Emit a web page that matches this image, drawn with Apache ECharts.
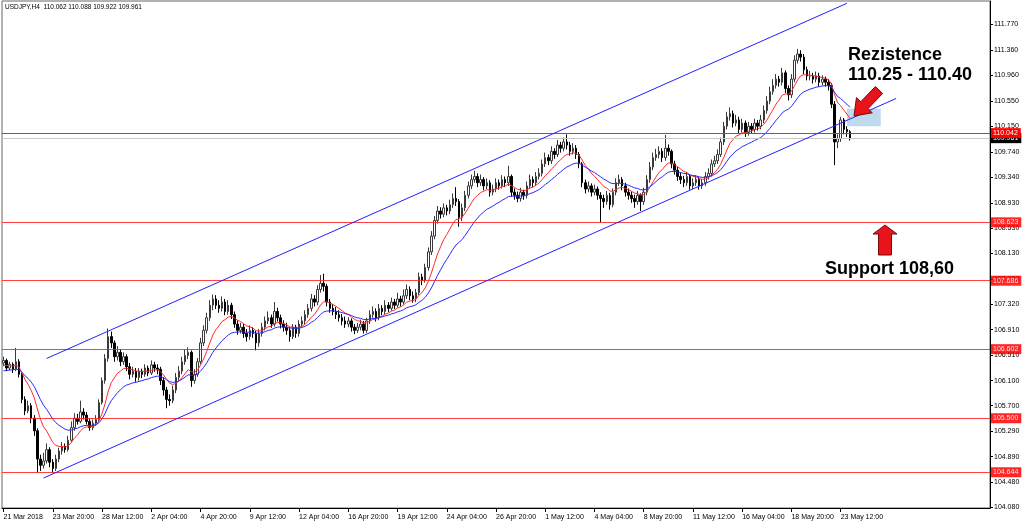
<!DOCTYPE html>
<html><head><meta charset="utf-8">
<script src="https://cdn.jsdelivr.net/npm/echarts@6/dist/echarts.min.js"></script>
<style>html,body{margin:0;padding:0;background:#fff}#c{width:1024px;height:527px}</style>
</head><body><div id="c"></div>
<script>
// ---------------- data ----------------
const chartTitle = 'USDJPY,H4  110.062 110.088 109.922 109.961';
const timeLabels = ['21 Mar 2018','23 Mar 20:00','28 Mar 12:00','2 Apr 04:00','4 Apr 20:00','9 Apr 12:00','12 Apr 04:00','16 Apr 20:00','19 Apr 12:00','24 Apr 04:00','26 Apr 20:00','1 May 12:00','4 May 04:00','8 May 20:00','11 May 12:00','16 May 04:00','18 May 20:00','23 May 12:00'];
const labelEvery = 16;          // bars between time labels
const slotCount = 321;          // bars + right-side chart shift
const firstOpen = 106.38;
const closes = [
106.42,106.30,106.36,106.28,106.40,106.20,105.80,105.62,105.70,105.50,
105.30,104.85,104.75,104.82,105.00,104.80,104.70,104.85,104.98,105.05,
105.00,105.15,105.35,105.50,105.45,105.60,105.55,105.45,105.35,105.42,
105.48,105.75,106.10,106.45,106.80,106.70,106.48,106.55,106.40,106.48,
106.32,106.20,106.25,106.15,106.25,106.20,106.30,106.22,106.35,106.30,
106.28,106.10,105.95,105.80,105.78,105.95,106.15,106.25,106.40,106.50,
106.55,106.10,106.20,106.40,106.70,106.90,107.10,107.30,107.40,107.30,
107.25,107.35,107.20,107.30,107.15,107.00,106.90,106.95,106.85,106.80,
106.90,106.85,106.70,106.85,106.95,107.05,107.10,107.00,107.20,107.10,
107.00,106.95,106.90,106.80,106.95,106.85,107.00,107.05,107.15,107.25,
107.40,107.35,107.55,107.65,107.60,107.35,107.25,107.20,107.15,107.10,
107.05,107.00,107.05,106.95,106.90,106.95,107.00,106.90,107.05,107.15,
107.20,107.10,107.25,107.20,107.30,107.25,107.35,107.30,107.40,107.35,
107.45,107.55,107.45,107.40,107.50,107.75,107.70,107.90,108.15,108.40,
108.65,108.80,108.75,108.85,108.80,108.90,109.00,108.95,108.70,108.85,
109.05,109.20,109.30,109.35,109.25,109.30,109.20,109.25,109.10,109.15,
109.25,109.20,109.30,109.25,109.35,109.10,109.05,109.00,109.10,109.05,
109.20,109.30,109.25,109.35,109.40,109.55,109.65,109.60,109.75,109.70,
109.85,109.80,109.90,109.85,109.75,109.80,109.70,109.55,109.25,109.15,
109.20,109.10,109.15,109.05,109.00,108.95,109.05,108.90,109.10,109.25,
109.30,109.20,109.10,109.05,109.00,108.95,109.05,108.95,109.10,109.30,
109.50,109.65,109.70,109.75,109.65,109.80,109.75,109.55,109.45,109.35,
109.30,109.25,109.35,109.20,109.25,109.30,109.20,109.25,109.35,109.40,
109.55,109.60,109.70,109.90,110.15,110.30,110.35,110.20,110.25,110.10,
110.20,110.05,110.15,110.10,110.20,110.15,110.25,110.40,110.55,110.70,
110.80,110.90,110.85,111.00,110.75,110.65,110.90,111.20,111.30,111.25,
111.05,110.95,110.95,110.90,110.95,110.85,110.90,110.85,110.80,110.50,
109.90,109.95,110.25,110.10,110.062,109.961];
const highs = [
106.48,106.45,106.40,106.39,106.62,106.44,106.22,105.85,105.78,105.74,
105.55,105.34,104.92,104.95,105.10,105.04,104.85,104.92,105.03,105.12,
105.10,105.22,105.45,105.58,105.57,105.78,105.66,105.60,105.50,105.48,
105.55,105.80,106.15,106.52,106.93,106.88,106.74,106.65,106.60,106.55,
106.52,106.38,106.32,106.30,106.30,106.29,106.36,106.34,106.42,106.40,
106.36,106.32,106.15,106.00,105.88,106.02,106.22,106.33,106.48,106.60,
106.63,106.58,106.28,106.46,106.78,106.98,107.18,107.38,107.47,107.46,
107.38,107.44,107.40,107.38,107.34,107.20,107.06,107.02,107.00,106.92,
106.98,106.95,106.90,106.92,107.02,107.12,107.20,107.15,107.35,107.26,
107.15,107.06,107.02,106.95,107.00,106.99,107.06,107.12,107.22,107.32,
107.48,107.46,107.62,107.78,107.80,107.64,107.40,107.32,107.27,107.22,
107.16,107.12,107.11,107.09,107.00,107.02,107.07,107.05,107.10,107.22,
107.28,107.25,107.32,107.30,107.38,107.35,107.42,107.40,107.50,107.45,
107.55,107.63,107.60,107.52,107.56,107.82,107.80,107.96,108.22,108.48,
108.72,108.88,108.86,108.92,108.90,108.98,109.08,109.18,108.99,108.92,
109.12,109.27,109.38,109.44,109.40,109.38,109.34,109.32,109.29,109.22,
109.32,109.30,109.37,109.35,109.52,109.38,109.16,109.11,109.17,109.14,
109.27,109.38,109.35,109.42,109.48,109.62,109.73,109.70,109.83,109.80,
109.93,109.90,109.97,110.02,109.90,109.88,109.85,109.74,109.58,109.30,
109.27,109.24,109.22,109.19,109.10,109.06,109.12,109.09,109.16,109.32,
109.38,109.34,109.25,109.16,109.11,109.06,109.12,109.08,109.17,109.37,
109.58,109.73,109.79,109.83,109.80,110.01,109.86,109.78,109.60,109.50,
109.41,109.36,109.42,109.39,109.32,109.37,109.34,109.31,109.42,109.48,
109.62,109.68,109.78,109.97,110.22,110.38,110.45,110.40,110.33,110.30,
110.27,110.24,110.22,110.20,110.27,110.25,110.33,110.48,110.63,110.78,
110.90,110.98,110.95,111.08,111.04,110.80,110.98,111.28,111.38,111.36,
111.30,111.10,111.03,111.00,111.02,111.00,110.96,110.94,110.90,110.84,
110.55,110.02,110.30,110.28,110.15,110.088];
const lows = [
106.33,106.25,106.26,106.22,106.25,106.15,105.74,105.55,105.58,105.42,
105.22,104.63,104.66,104.70,104.78,104.72,104.63,104.66,104.80,104.92,
104.95,104.97,105.12,105.30,105.40,105.42,105.48,105.40,105.30,105.31,
105.38,105.45,105.72,106.05,106.40,106.62,106.40,106.42,106.33,106.35,
106.25,106.12,106.15,106.08,106.10,106.14,106.16,106.17,106.19,106.24,
106.20,106.03,105.86,105.66,105.70,105.74,105.90,106.10,106.20,106.35,
106.44,106.00,106.05,106.16,106.36,106.65,106.85,107.05,107.22,107.24,
107.18,107.20,107.14,107.15,107.08,106.94,106.83,106.85,106.78,106.72,
106.75,106.78,106.58,106.64,106.80,106.90,107.00,106.94,106.96,107.04,
106.93,106.88,106.83,106.72,106.76,106.78,106.80,106.96,107.00,107.10,
107.20,107.28,107.30,107.50,107.52,107.28,107.18,107.14,107.08,107.04,
106.98,106.94,106.95,106.88,106.84,106.86,106.90,106.85,106.86,107.00,
107.10,107.04,107.06,107.14,107.15,107.19,107.21,107.24,107.26,107.28,
107.31,107.40,107.38,107.34,107.35,107.46,107.62,107.66,107.85,108.10,
108.35,108.60,108.68,108.70,108.73,108.75,108.85,108.88,108.55,108.64,
108.80,109.00,109.15,109.25,109.18,109.20,109.13,109.15,109.03,109.05,
109.10,109.14,109.16,109.18,109.20,109.03,108.98,108.94,108.95,108.98,
109.00,109.15,109.18,109.20,109.30,109.35,109.50,109.53,109.55,109.63,
109.66,109.73,109.75,109.78,109.68,109.70,109.63,109.48,109.18,109.08,
109.10,109.03,109.05,108.98,108.62,108.85,108.90,108.82,108.86,109.05,
109.20,109.13,109.03,108.98,108.93,108.85,108.90,108.80,108.90,109.05,
109.25,109.45,109.60,109.64,109.58,109.60,109.68,109.48,109.38,109.28,
109.23,109.18,109.20,109.14,109.15,109.20,109.14,109.15,109.20,109.30,
109.35,109.50,109.55,109.66,109.85,110.10,110.24,110.13,110.15,110.03,
110.05,109.98,110.00,110.03,110.05,110.08,110.10,110.20,110.35,110.50,
110.65,110.75,110.78,110.80,110.68,110.56,110.60,110.85,111.15,111.18,
110.98,110.88,110.88,110.83,110.85,110.78,110.80,110.78,110.72,110.44,
109.53,109.80,109.90,110.02,109.98,109.922];
const fastMA = {period: 10, seed: 106.33};   // red moving average
const slowMA = {period: 21, seed: 106.24};   // blue moving average
const levelPrices = [110.042, 108.623, 107.686, 106.602, 105.500, 104.644];
const bidPrice = 109.961;
const yTickValues = [111.770,111.360,110.960,110.550,110.150,109.740,109.340,108.930,108.530,108.130,107.720,107.320,106.910,106.510,106.100,105.700,105.290,104.890,104.480,104.080];
const yRange = [104.071, 112.144];
const channelUpper = [[14, 106.452], [274, 112.107]];
const channelLower = [[13, 104.548], [290, 110.592]];
const resistanceZone = [[274, 110.43], [285, 110.15]];
const noteResistance = ['Rezistence', '110.25 - 110.40'];
const noteSupport = 'Support 108,60';

// ---------------- build ----------------
const xData = Array.from({length: slotCount}, (_, i) => String(i));
const candles = closes.map((c, i) => [i === 0 ? firstOpen : closes[i - 1], c, lows[i], highs[i]]);
function ema(cfg) {
  const a = 2 / (cfg.period + 1);
  let prev = cfg.seed;
  return closes.map(c => (prev = prev + a * (c - prev), +prev.toFixed(4)));
}
const redMA = ema(fastMA), blueMA = ema(slowMA);

const small = "'Liberation Sans',Arial,sans-serif";
const levelLines = levelPrices.map(p => ({
  yAxis: p,
  lineStyle: {color: '#ff2020', width: 1, type: 'solid', opacity: p === 110.042 ? 1 : 0.85},
  label: {show: true, position: 'end', distance: 1, formatter: p.toFixed(3), color: '#fff',
    backgroundColor: '#ff0000', padding: [2, 3, 1, 2], fontSize: 7, fontFamily: small}
}));
const bidLine = {
  yAxis: bidPrice,
  lineStyle: {color: '#c8c8c8', width: 1, type: 'solid'},
  label: {show: true, position: 'end', distance: 1, formatter: bidPrice.toFixed(3), color: '#fff',
    backgroundColor: '#000', padding: [2, 3, 1, 2], fontSize: 7, fontFamily: small}
};
const chanStyle = {lineStyle: {color: '#2020ff', width: 1, type: 'solid'}, label: {show: false}};
const chan = c => [Object.assign({coord: [xData[c[0][0]], c[0][1]]}, chanStyle), {coord: [xData[c[1][0]], c[1][1]]}];

function arrowPts(tail, tip, shaftHalf, headHalf, headLen) {
  const dx = tip[0] - tail[0], dy = tip[1] - tail[1], L = Math.hypot(dx, dy);
  const ux = dx / L, uy = dy / L, nx = -uy, ny = ux;
  const neck = [tip[0] - ux * headLen, tip[1] - uy * headLen];
  const p = (b, s) => [b[0] + nx * s, b[1] + ny * s];
  return [p(tail, shaftHalf), p(neck, shaftHalf), p(neck, headHalf), tip, p(neck, -headHalf), p(neck, -shaftHalf), p(tail, -shaftHalf)];
}
const arrowStyle = {fill: '#e8141c', stroke: '#7a0a0a', lineWidth: 1};
const bold = {fontFamily: "'Liberation Sans',Arial,sans-serif", fontWeight: 'bold', fontSize: 18, fill: '#000', textVerticalAlign: 'middle'};

const chart = echarts.init(document.getElementById('c'), null, {renderer: 'canvas'});
chart.setOption({
  animation: false,
  backgroundColor: '#fff',
  grid: {left: 2, right: 34, top: 1, bottom: 19, show: true, borderColor: '#666', borderWidth: 1},
  xAxis: {
    type: 'category', data: xData, boundaryGap: true,
    axisLine: {show: true, lineStyle: {color: '#000'}},
    axisTick: {show: true, alignWithLabel: true, length: 4, lineStyle: {color: '#000'},
      interval: i => i % labelEvery === 0 && i / labelEvery < timeLabels.length},
    axisLabel: {show: true, align: 'left', margin: 6, fontSize: 7, fontFamily: small, color: '#000', hideOverlap: false,
      interval: i => i % labelEvery === 0 && i / labelEvery < timeLabels.length,
      formatter: (v, i) => timeLabels[i / labelEvery] || ''},
    splitLine: {show: false}
  },
  yAxis: {
    type: 'value', position: 'right', min: yRange[0], max: yRange[1], scale: true,
    axisLine: {show: true, lineStyle: {color: '#000'}},
    axisTick: {show: true, length: 3, lineStyle: {color: '#000'}, customValues: yTickValues},
    axisLabel: {show: true, margin: 4, fontSize: 7, fontFamily: small, color: '#000',
      customValues: yTickValues, formatter: v => v.toFixed(3)},
    splitLine: {show: false}
  },
  graphic: [
    {type: 'text', left: 5, top: 4, style: {text: chartTitle, fontSize: 6.5, fontFamily: small, fill: '#000'}},
    {type: 'polygon', shape: {points: arrowPts([879, 90], [854, 116], 5, 11, 15)}, style: arrowStyle, z: 100},
    {type: 'polygon', shape: {points: arrowPts([885, 255], [885, 225], 6.5, 12, 9)}, style: arrowStyle, z: 100},
    {type: 'text', x: 848, y: 55, style: Object.assign({text: noteResistance[0]}, bold), z: 100},
    {type: 'text', x: 848, y: 75, style: Object.assign({text: noteResistance[1]}, bold), z: 100},
    {type: 'text', x: 825, y: 269, style: Object.assign({text: noteSupport}, bold), z: 100}
  ],
  series: [
    {
      type: 'candlestick', data: candles, barWidth: 2,
      itemStyle: {color: '#ffffff', color0: '#000000', borderColor: '#3a3a3a', borderColor0: '#000000', borderWidth: 1},
      markArea: {silent: true, itemStyle: {color: 'rgba(170,205,232,0.75)'},
        data: [[{coord: [xData[resistanceZone[0][0]], resistanceZone[0][1]]}, {coord: [xData[resistanceZone[1][0]], resistanceZone[1][1]]}]]},
      markLine: {silent: true, symbol: 'none', animation: false,
        data: [bidLine].concat(levelLines).concat([chan(channelUpper), chan(channelLower)])}
    },
    {type: 'line', data: redMA, symbol: 'none', smooth: false, lineStyle: {color: '#ff2a2a', width: 1}, z: 3},
    {type: 'line', data: blueMA, symbol: 'none', smooth: false, lineStyle: {color: '#2a2aff', width: 1}, z: 3}
  ]
});
</script></body></html>
